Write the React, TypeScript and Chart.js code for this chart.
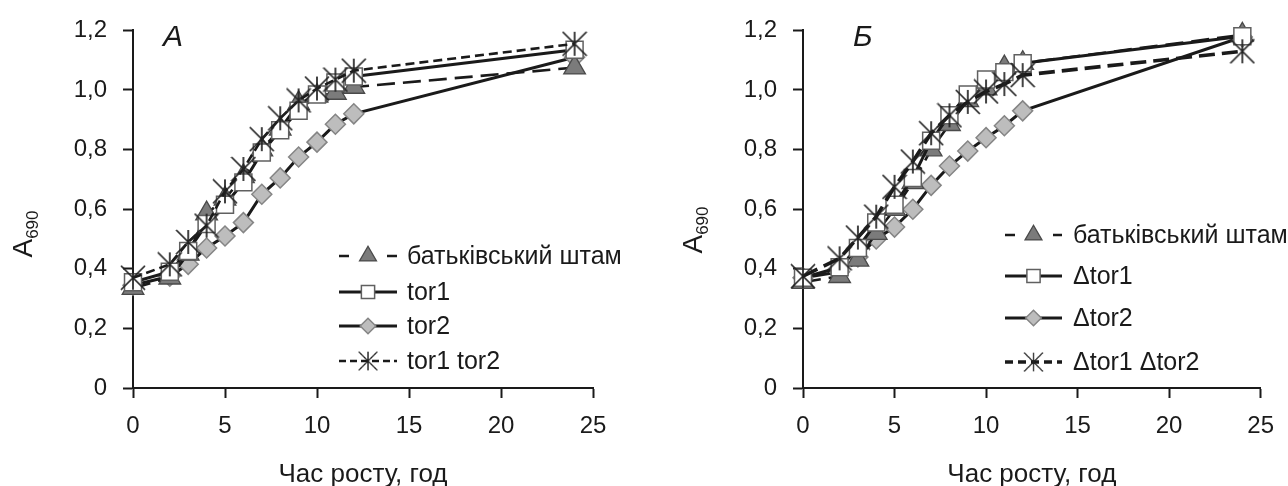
import React, { useEffect, useRef } from 'react';
import { Chart, registerables } from 'chart.js';

Chart.register(...registerables);

// ---------- data ----------
const hours = [0, 2, 3, 4, 5, 6, 7, 8, 9, 10, 11, 12, 24];
const xTickValues = [0, 5, 10, 15, 20, 25];
const xTickLabels = ['0', '5', '10', '15', '20', '25'];
const yTickValues = [0, 0.2, 0.4, 0.6, 0.8, 1.0, 1.2];
const yTickLabels = ['0', '0,2', '0,4', '0,6', '0,8', '1,0', '1,2'];

const xAxisTitle = 'Час росту, год';
const yAxisTitleMain = 'A';
const yAxisTitleSub = '690';

const panelALetter = 'А';
const panelBLetter = 'Б';

// Panel А
const aLabels = ['батьківський штам', 'tor1', 'tor2', 'tor1 tor2'];
const aParent = [0.335, 0.37, 0.45, 0.585, 0.635, 0.71, 0.8, 0.87, 0.955, 0.98, 0.99, 1.01, 1.075];
const aTor1 = [0.355, 0.39, 0.46, 0.55, 0.615, 0.69, 0.79, 0.865, 0.93, 0.985, 1.025, 1.045, 1.135];
const aTor2 = [0.345, 0.375, 0.415, 0.47, 0.51, 0.555, 0.65, 0.705, 0.775, 0.825, 0.885, 0.92, 1.11];
const aTor1Tor2 = [0.37, 0.415, 0.49, 0.545, 0.66, 0.735, 0.835, 0.905, 0.965, 1.005, 1.035, 1.065, 1.155];

// Panel Б
const bLabels = ['батьківський штам', 'Δtor1', 'Δtor2', 'Δtor1 Δtor2'];
const bParent = [0.355, 0.375, 0.43, 0.52, 0.6, 0.69, 0.8, 0.885, 0.965, 1.005, 1.075, 1.09, 1.185];
const bTor1 = [0.37, 0.405, 0.47, 0.555, 0.615, 0.705, 0.83, 0.915, 0.985, 1.035, 1.06, 1.09, 1.18];
const bTor2 = [0.37, 0.39, 0.44, 0.5, 0.54, 0.6, 0.68, 0.745, 0.795, 0.84, 0.88, 0.93, 1.178];
const bTor1Tor2 = [0.375, 0.435, 0.505, 0.575, 0.675, 0.76, 0.855, 0.915, 0.96, 0.995, 1.02, 1.05, 1.13];

// ---------- styles ----------
const FONT = "'Liberation Sans', Arial, sans-serif";
const INK = '#1a1a1a';

function makeAsterisk(size: number, lw: number, color: string) {
  const c = document.createElement('canvas');
  c.width = size;
  c.height = size;
  const g = c.getContext('2d')!;
  g.strokeStyle = color;
  g.lineWidth = lw;
  const m = size / 2;
  const r = size / 2 - 1;
  g.beginPath();
  g.moveTo(m, m - r);
  g.lineTo(m, m + r);
  g.moveTo(m - r, m - r);
  g.lineTo(m + r, m + r);
  g.moveTo(m + r, m - r);
  g.lineTo(m - r, m + r);
  g.stroke();
  return c;
}

type SeriesStyle = {
  pointStyle: any;
  pointRadius: number;
  pointBackgroundColor: string;
  pointBorderColor: string;
  pointBorderWidth: number;
  borderDash: number[];
  borderWidth: number;
  legendDash: number[];
  order: number;
};

function styles(panel: 'A' | 'B'): SeriesStyle[] {
  const ast = makeAsterisk(26, 1.7, '#222');
  return [
    {
      pointStyle: 'triangle', pointRadius: 12.5, pointBackgroundColor: '#7b7b7b', pointBorderColor: '#4a4a4a',
      pointBorderWidth: 1.3, borderDash: [18, 8], borderWidth: 2.6, legendDash: [10, 14], order: 2,
    },
    {
      pointStyle: 'rect', pointRadius: 12, pointBackgroundColor: '#ffffff', pointBorderColor: '#606060',
      pointBorderWidth: 1.5, borderDash: [], borderWidth: 3, legendDash: [], order: 1,
    },
    {
      pointStyle: 'rectRot', pointRadius: 10, pointBackgroundColor: '#bdbdbd', pointBorderColor: '#858585',
      pointBorderWidth: 1.5, borderDash: [], borderWidth: 3, legendDash: [], order: 3,
    },
    {
      pointStyle: ast, pointRadius: 12, pointBackgroundColor: '#222', pointBorderColor: '#222',
      pointBorderWidth: 1, borderDash: panel === 'A' ? [9, 5] : [16, 7], borderWidth: panel === 'A' ? 2.6 : 3.6,
      legendDash: panel === 'A' ? [7, 4] : [8, 5], order: 0,
    },
  ];
}

type Panel = {
  letter: string;
  labels: string[];
  series: number[][];
  kind: 'A' | 'B';
  axisLeft: number;
  padRight: number;
  padTop: number;
  xAxisHeight: number;
  letterX: number;
  letterY: number;
  yTitleX: number;
  yTitleY: number;
  legendRows: number[];
  legendLine: [number, number];
  legendText: number;
};

const panelA: Panel = {
  letter: panelALetter,
  labels: aLabels,
  series: [aParent, aTor1, aTor2, aTor1Tor2],
  kind: 'A',
  axisLeft: 133,
  padRight: 51,
  padTop: 25,
  xAxisHeight: 98,
  letterX: 163,
  letterY: 46,
  yTitleX: 32,
  yTitleY: 234,
  legendRows: [256, 292, 326, 361],
  legendLine: [339, 397],
  legendText: 407,
};

const panelB: Panel = {
  letter: panelBLetter,
  labels: bLabels,
  series: [bParent, bTor1, bTor2, bTor1Tor2],
  kind: 'B',
  axisLeft: 159,
  padRight: 20,
  padTop: 19,
  xAxisHeight: 98,
  letterX: 209,
  letterY: 46,
  yTitleX: 58,
  yTitleY: 230,
  legendRows: [235, 276, 318, 362],
  legendLine: [361, 418],
  legendText: 429,
};

function drawMarker(ctx: CanvasRenderingContext2D, s: SeriesStyle, x: number, y: number, k: number) {
  const r = s.pointRadius * k;
  ctx.save();
  ctx.setLineDash([]);
  if (typeof s.pointStyle !== 'string') {
    const img = s.pointStyle as HTMLCanvasElement;
    const w = img.width * k;
    ctx.drawImage(img, x - w / 2, y - w / 2, w, w);
    ctx.restore();
    return;
  }
  ctx.fillStyle = s.pointBackgroundColor;
  ctx.strokeStyle = s.pointBorderColor;
  ctx.lineWidth = s.pointBorderWidth;
  ctx.beginPath();
  if (s.pointStyle === 'triangle') {
    ctx.moveTo(x, y - r);
    ctx.lineTo(x + 0.866 * r, y + 0.5 * r);
    ctx.lineTo(x - 0.866 * r, y + 0.5 * r);
    ctx.closePath();
  } else if (s.pointStyle === 'rect') {
    const h = r * Math.SQRT1_2;
    ctx.rect(x - h, y - h, 2 * h, 2 * h);
  } else {
    ctx.moveTo(x - r, y);
    ctx.lineTo(x, y - r);
    ctx.lineTo(x + r, y);
    ctx.lineTo(x, y + r);
    ctx.closePath();
  }
  ctx.fill();
  ctx.stroke();
  ctx.restore();
}

function overlayPlugin(panel: Panel, st: SeriesStyle[]) {
  return {
    id: 'overlay' + panel.kind,
    afterDraw(chart: any) {
      const ctx: CanvasRenderingContext2D = chart.ctx;
      const area = chart.chartArea;
      ctx.save();
      ctx.fillStyle = INK;
      // panel letter
      ctx.font = `italic 30px ${FONT}`;
      ctx.textAlign = 'left';
      ctx.textBaseline = 'alphabetic';
      ctx.fillText(panel.letter, panel.letterX, panel.letterY);
      // x axis title
      ctx.font = `26px ${FONT}`;
      ctx.textAlign = 'center';
      ctx.fillText(xAxisTitle, (area.left + area.right) / 2, 482);
      // y axis title with subscript
      ctx.save();
      ctx.translate(panel.yTitleX, panel.yTitleY);
      ctx.rotate(-Math.PI / 2);
      ctx.textAlign = 'left';
      ctx.font = `28px ${FONT}`;
      const wMain = ctx.measureText(yAxisTitleMain).width;
      ctx.font = `17px ${FONT}`;
      const wSub = ctx.measureText(yAxisTitleSub).width;
      const start = -(wMain + wSub) / 2;
      ctx.font = `28px ${FONT}`;
      ctx.fillText(yAxisTitleMain, start, 0);
      ctx.font = `17px ${FONT}`;
      ctx.fillText(yAxisTitleSub, start + wMain, 6);
      ctx.restore();
      // legend
      const [l0, l1] = panel.legendLine;
      const mid = (l0 + l1) / 2;
      panel.legendRows.forEach((ry, i) => {
        const s = st[i];
        ctx.save();
        ctx.strokeStyle = INK;
        ctx.lineWidth = s.borderWidth;
        ctx.setLineDash(s.legendDash);
        ctx.beginPath();
        ctx.moveTo(l0, ry);
        ctx.lineTo(l1, ry);
        ctx.stroke();
        ctx.restore();
        drawMarker(ctx, s, mid, ry, 0.78);
        ctx.fillStyle = INK;
        ctx.font = `25px ${FONT}`;
        ctx.textAlign = 'left';
        ctx.textBaseline = 'middle';
        ctx.fillText(panel.labels[i], panel.legendText, ry + 1);
      });
      ctx.restore();
    },
  };
}

function buildConfig(panel: Panel): any {
  const st = styles(panel.kind);
  const tickFont = { family: FONT, size: 24 };
  return {
    type: 'line',
    data: {
      datasets: panel.series.map((vals, i) => ({
        label: panel.labels[i],
        data: hours.map((h, j) => ({ x: h, y: vals[j] })),
        borderColor: INK,
        borderWidth: st[i].borderWidth,
        borderDash: st[i].borderDash,
        pointStyle: st[i].pointStyle,
        pointRadius: st[i].pointRadius,
        pointBackgroundColor: st[i].pointBackgroundColor,
        pointBorderColor: st[i].pointBorderColor,
        pointBorderWidth: st[i].pointBorderWidth,
        order: st[i].order,
        tension: 0,
        fill: false,
        clip: false,
      })),
    },
    options: {
      animation: false,
      responsive: false,
      maintainAspectRatio: false,
      events: [],
      layout: { padding: { left: 0, right: panel.padRight, top: panel.padTop, bottom: 0 } },
      plugins: {
        legend: { display: false },
        tooltip: { enabled: false },
        title: { display: false },
      },
      scales: {
        x: {
          type: 'linear',
          min: 0,
          max: 25,
          afterBuildTicks: (s: any) => {
            s.ticks = xTickValues.map((v) => ({ value: v }));
          },
          afterFit: (s: any) => {
            s.height = panel.xAxisHeight;
          },
          ticks: {
            callback: (_v: any, i: number) => xTickLabels[i],
            font: tickFont,
            color: INK,
            padding: 14,
            maxRotation: 0,
            autoSkip: false,
          },
          grid: {
            display: true,
            drawOnChartArea: false,
            drawTicks: true,
            tickLength: 10,
            tickWidth: 2,
            tickColor: INK,
          },
          border: { display: true, color: INK, width: 2 },
        },
        y: {
          type: 'linear',
          min: 0,
          max: 1.2,
          afterBuildTicks: (s: any) => {
            s.ticks = yTickValues.map((v) => ({ value: v }));
          },
          afterFit: (s: any) => {
            s.width = panel.axisLeft;
          },
          ticks: {
            callback: (_v: any, i: number) => yTickLabels[i],
            font: tickFont,
            color: INK,
            padding: 16,
            autoSkip: false,
          },
          grid: {
            display: true,
            drawOnChartArea: false,
            drawTicks: true,
            tickLength: 10,
            tickWidth: 2,
            tickColor: INK,
          },
          border: { display: true, color: INK, width: 2 },
        },
      },
    },
    plugins: [overlayPlugin(panel, st)],
  };
}

export default function App() {
  const leftRef = useRef<HTMLCanvasElement>(null);
  const rightRef = useRef<HTMLCanvasElement>(null);
  useEffect(() => {
    const c1 = new Chart(leftRef.current!, buildConfig(panelA));
    const c2 = new Chart(rightRef.current!, buildConfig(panelB));
    return () => {
      c1.destroy();
      c2.destroy();
    };
  }, []);
  return (
    <div style={{ position: 'absolute', left: 0, top: 0, width: 1288, height: 486, background: '#fff', overflow: 'hidden' }}>
      <canvas ref={leftRef} width={644} height={486} style={{ position: 'absolute', left: 0, top: 0 }} />
      <canvas ref={rightRef} width={644} height={486} style={{ position: 'absolute', left: 644, top: 0 }} />
    </div>
  );
}
